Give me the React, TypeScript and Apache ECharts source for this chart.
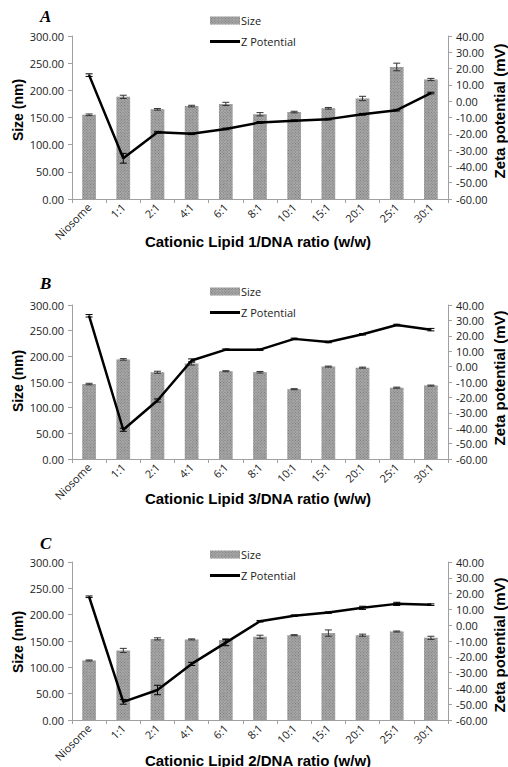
import React, { useEffect, useRef } from "react";
import * as echarts from "echarts";

const categories = ["Niosome", "1:1", "2:1", "4:1", "6:1", "8:1", "10:1", "15:1", "20:1", "25:1", "30:1"];
const panelLetters = ["A", "B", "C"];
const xTitles = [
  "Cationic Lipid 1/DNA ratio (w/w)",
  "Cationic Lipid 3/DNA ratio (w/w)",
  "Cationic Lipid 2/DNA ratio (w/w)",
];
const leftTitle = "Size (nm)";
const rightTitle = "Zeta potential (mV)";

const sizeA = [155, 188, 165, 171, 175, 156, 160, 167, 185, 243, 220];
const sizeErrA = [1.5, 3, 1.5, 1.5, 3, 3, 1.5, 1.5, 4, 7, 2];
const zetaA = [16, -35, -19, -20, -17, -13, -12, -11, -8, -5.5, 5];
const zetaErrA = [0.8, 3, 0.5, 0.5, 0.5, 0.5, 0.5, 0.5, 0.5, 0.5, 0.5];

const sizeB = [146, 194, 169, 186, 171, 169, 136, 180, 178, 139, 143];
const sizeErrB = [1.5, 1.5, 2, 3, 1, 1.5, 1, 1, 1, 1, 1];
const zetaB = [33, -41, -22, 4, 11, 11, 18, 16, 21, 27, 24];
const zetaErrB = [0.8, 1, 1, 1, 0.5, 0.5, 0.5, 0.5, 0.5, 0.5, 0.8];

const sizeC = [113, 132, 154, 153, 152, 158, 161, 165, 161, 168, 156];
const sizeErrC = [1, 4, 2, 1, 2, 3, 1, 6, 2, 1, 3];
const zetaC = [18, -48.5, -41, -24.5, -11, 2.5, 6, 8, 11, 13.5, 13];
const zetaErrC = [0.5, 1.5, 3, 1, 2, 0.5, 0.5, 0.5, 1, 1, 0.5];

const sizeTicks = { min: 0, max: 300, interval: 50 };
const zetaTicks = { min: -60, max: 40, interval: 10 };

const panels = [
  { size: sizeA, sizeErr: sizeErrA, zeta: zetaA, zetaErr: zetaErrA },
  { size: sizeB, sizeErr: sizeErrB, zeta: zetaB, zetaErr: zetaErrB },
  { size: sizeC, sizeErr: sizeErrC, zeta: zetaC, zetaErr: zetaErrC },
];

const gridTops = [36, 305, 562];
const gridHeights = [163, 154, 158];
const legendTops = [10, 281, 544];
const letterTops = [8, 275, 535];
const xTitleYs = [241, 498, 760];
const leftTitleYs = [110, 381, 642];
const rightTitleYs = [111, 378, 645];

const tickFont = "'Open Sans', 'DejaVu Sans', sans-serif";

function errorRender(capHalf: number, color: string) {
  return (params: any, api: any) => {
    const x = api.value(0);
    const y = api.value(1);
    const e = api.value(2);
    const hi = api.coord([x, y + e]);
    const lo = api.coord([x, y - e]);
    const style = { stroke: color, lineWidth: 1 };
    return {
      type: "group",
      children: [
        { type: "line", shape: { x1: hi[0], y1: hi[1], x2: lo[0], y2: lo[1] }, style },
        { type: "line", shape: { x1: hi[0] - capHalf, y1: hi[1], x2: hi[0] + capHalf, y2: hi[1] }, style },
        { type: "line", shape: { x1: lo[0] - capHalf, y1: lo[1], x2: lo[0] + capHalf, y2: lo[1] }, style },
      ],
    };
  };
}

export default function App() {
  const ref = useRef<HTMLDivElement>(null);

  useEffect(() => {
    if (!ref.current) return;
    const chart = echarts.init(ref.current, undefined, { renderer: "svg" });

    const decal = {
      symbol: "rect",
      symbolSize: 1,
      color: "#7a7a7a",
      backgroundColor: "#cdcdcd",
      dashArrayX: [1, 1],
      dashArrayY: [1, 1],
      rotation: Math.PI / 4,
    };

    const grid: any[] = [];
    const xAxis: any[] = [];
    const yAxis: any[] = [];
    const series: any[] = [];
    const legend: any[] = [];
    const graphic: any[] = [];

    panels.forEach((p, i) => {
      grid.push({ left: 72, right: 60, top: gridTops[i], height: gridHeights[i] });
      xAxis.push({
        type: "category",
        gridIndex: i,
        data: categories,
        boundaryGap: true,
        axisLine: { lineStyle: { color: "#a0a0a0" } },
        axisTick: { show: true, length: 4, lineStyle: { color: "#a0a0a0" } },
        axisLabel: { rotate: 45, fontSize: 11, color: "#222", fontFamily: tickFont, interval: 0, margin: 6 },
      });
      yAxis.push({
        type: "value",
        gridIndex: i,
        position: "left",
        ...sizeTicks,
        splitLine: { show: false },
        axisLine: { show: true, lineStyle: { color: "#a0a0a0" } },
        axisTick: { show: true, length: 4, lineStyle: { color: "#a0a0a0" } },
        axisLabel: { fontSize: 11, color: "#222", fontFamily: tickFont, formatter: (v: number) => v.toFixed(2), margin: 8 },
      });
      yAxis.push({
        type: "value",
        gridIndex: i,
        position: "right",
        ...zetaTicks,
        splitLine: { show: false },
        axisLine: { show: true, lineStyle: { color: "#a0a0a0" } },
        axisTick: { show: true, length: 4, lineStyle: { color: "#a0a0a0" } },
        axisLabel: { fontSize: 11, color: "#222", fontFamily: tickFont, formatter: (v: number) => v.toFixed(2), margin: 8 },
      });
      series.push({
        type: "bar",
        name: "Size",
        xAxisIndex: i,
        yAxisIndex: 2 * i,
        data: p.size,
        barWidth: "40%",
        itemStyle: { color: "#a8a8a8", decal },
      });
      series.push({
        type: "custom",
        name: "sizeErr" + i,
        xAxisIndex: i,
        yAxisIndex: 2 * i,
        data: p.size.map((v, k) => [k, v, p.sizeErr[k]]),
        renderItem: errorRender(3.5, "#333"),
        z: 3,
      });
      series.push({
        type: "line",
        name: "Z Potential",
        xAxisIndex: i,
        yAxisIndex: 2 * i + 1,
        data: p.zeta,
        symbol: "none",
        lineStyle: { color: "#000", width: 2.5 },
        itemStyle: { color: "#000" },
        z: 4,
      });
      series.push({
        type: "custom",
        name: "zetaErr" + i,
        xAxisIndex: i,
        yAxisIndex: 2 * i + 1,
        data: p.zeta.map((v, k) => [k, v, p.zetaErr[k]]),
        renderItem: errorRender(3.5, "#000"),
        z: 5,
      });
      legend.push({
        orient: "vertical",
        left: 205,
        top: legendTops[i],
        data: [
          { name: "Size", icon: "rect" },
          { name: "Z Potential", icon: "path://M0 0H30V3H0Z" },
        ],
        itemWidth: 30,
        itemHeight: 8,
        itemGap: 10,
        textStyle: { fontSize: 11, color: "#222", fontFamily: tickFont, padding: [0, 0, 0, -4] },
        selectedMode: false,
      });
      graphic.push({
        type: "text",
        left: 40,
        top: letterTops[i],
        style: {
          text: panelLetters[i],
          font: "italic bold 17px 'Liberation Serif', serif",
          fill: "#000",
        },
      });
      graphic.push({
        type: "text",
        x: 258,
        y: xTitleYs[i],
        style: {
          text: xTitles[i],
          font: "bold 15px 'Liberation Sans', Arial, sans-serif",
          fill: "#000",
          align: "center",
          verticalAlign: "middle",
        },
      });
      graphic.push({
        type: "text",
        x: 18,
        y: leftTitleYs[i],
        rotation: Math.PI / 2,
        style: {
          text: leftTitle,
          font: "bold 14px 'Liberation Sans', Arial, sans-serif",
          fill: "#000",
          align: "center",
          verticalAlign: "middle",
        },
      });
      graphic.push({
        type: "text",
        x: 499,
        y: rightTitleYs[i],
        rotation: Math.PI / 2,
        style: {
          text: rightTitle,
          font: "bold 15px 'Liberation Sans', Arial, sans-serif",
          fill: "#000",
          align: "center",
          verticalAlign: "middle",
        },
      });
    });

    chart.setOption({
      animation: false,
      backgroundColor: "#fff",
      grid,
      xAxis,
      yAxis,
      series,
      legend,
      graphic,
    });

    return () => chart.dispose();
  }, []);

  return (
    <div
      ref={ref}
      style={{ position: "absolute", left: 0, top: 0, width: 508, height: 767 }}
    />
  );
}
